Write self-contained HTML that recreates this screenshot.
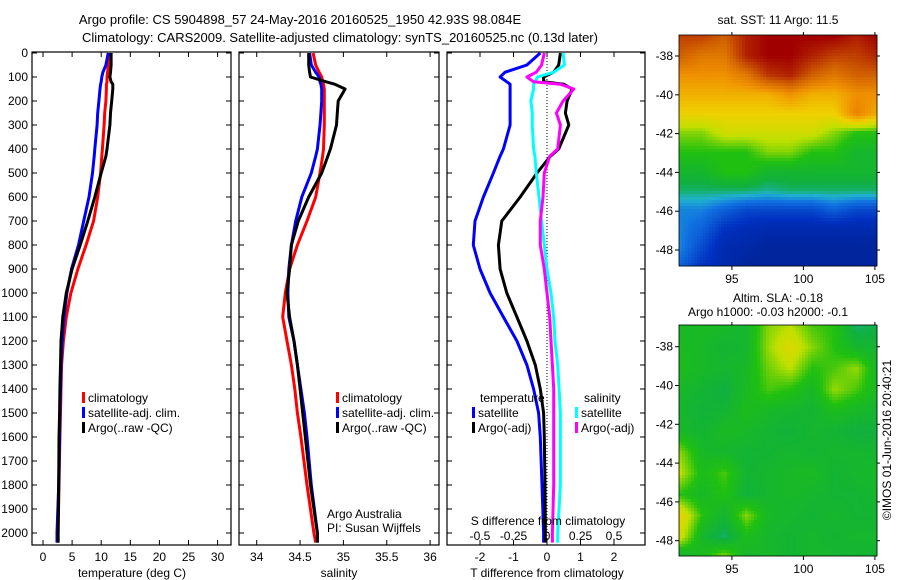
<!DOCTYPE html>
<html><head><meta charset="utf-8"><style>
body{margin:0;background:#fff}
svg{display:block;font-family:"Liberation Sans",sans-serif;font-size:12px}
</style></head><body>
<svg id="fig" width="900" height="580" xmlns="http://www.w3.org/2000/svg">
<rect width="900" height="580" fill="#fff"/>
<text x="300" y="24" text-anchor="middle" font-size="13">Argo profile: CS 5904898_57 24-May-2016 20160525_1950 42.93S 98.084E</text>
<text x="340" y="42" text-anchor="middle" font-size="13">Climatology: CARS2009. Satellite-adjusted climatology: synTS_20160525.nc (0.13d later)</text>
<g id="g"></g>
</svg>
<script>
// ---------- data ----------
const depths = [0,50,80,100,120,130,150,200,250,300,400,430,500,600,700,800,900,1000,1100,1200,1300,1400,1500,1600,1800,2000,2040];
const tempClim = [11.3,11.2,11.1,11.0,11.0,10.9,10.9,10.8,10.6,10.5,10.2,10.1,9.9,9.4,8.7,7.4,6.0,4.8,4.0,3.5,3.2,3.1,3.0,2.9,2.75,2.6,2.6];
const tempSat  = [11.2,10.8,10.3,10.1,10.0,9.9,9.8,9.6,9.4,9.3,8.9,8.8,8.5,7.9,7.0,6.1,4.9,4.1,3.6,3.3,3.1,3.0,2.9,2.85,2.7,2.4,2.4];
const tempArgo = [11.7,11.7,11.6,11.5,11.7,12.0,12.0,11.8,11.6,11.5,11.0,10.8,10.0,8.9,7.7,6.4,5.0,4.0,3.4,3.1,3.0,2.9,2.85,2.75,2.7,2.6,2.6];
const salClim = [34.65,34.68,34.72,34.75,34.76,34.77,34.78,34.78,34.78,34.78,34.77,34.76,34.73,34.68,34.58,34.47,34.38,34.33,34.30,34.35,34.40,34.44,34.47,34.51,34.58,34.66,34.68];
const salSat  = [34.61,34.63,34.68,34.72,34.73,34.74,34.75,34.75,34.74,34.73,34.70,34.68,34.63,34.52,34.45,34.40,34.37,34.36,34.37,34.43,34.47,34.51,34.55,34.58,34.63,34.70,34.70];
const salArgo = [34.60,34.60,34.61,34.62,34.80,34.90,35.02,34.94,34.93,34.92,34.85,34.82,34.75,34.60,34.48,34.40,34.38,34.35,34.38,34.43,34.47,34.50,34.53,34.56,34.62,34.70,34.70];
const tDiffSat  = [-0.2,-0.6,-1.25,-1.4,-1.2,-1.1,-1.1,-1.1,-1.1,-1.1,-1.3,-1.4,-1.6,-1.9,-2.15,-2.2,-2.0,-1.7,-1.3,-0.9,-0.6,-0.4,-0.25,-0.2,-0.15,-0.1,-0.1];
const tDiffArgo = [0.4,0.35,0.2,-0.1,-0.1,0.5,0.75,0.6,0.55,0.65,0.35,0.1,-0.3,-0.8,-1.35,-1.45,-1.4,-1.2,-0.9,-0.6,-0.35,-0.2,-0.1,-0.08,-0.06,-0.05,-0.05];
const sDiffSat  = [0.12,0.13,0.05,-0.07,-0.09,-0.1,-0.1,-0.12,-0.11,-0.11,-0.1,-0.09,-0.08,-0.06,-0.04,-0.02,0.0,0.03,0.05,0.06,0.08,0.09,0.1,0.1,0.1,0.08,0.08];
const sDiffArgo = [-0.02,-0.04,-0.08,-0.15,-0.1,0.1,0.2,0.12,0.07,0.1,0.08,0.02,-0.02,-0.03,-0.05,-0.05,-0.02,0.0,0.02,0.03,0.04,0.05,0.05,0.05,0.05,0.04,0.04];
const depthTicks = [0,100,200,300,400,500,600,700,800,900,1000,1100,1200,1300,1400,1500,1600,1700,1800,1900,2000];
const tempTicks = [0,5,10,15,20,25,30];
const salTicks = [34,34.5,35,35.5,36];
const tDiffTicks = [-2,-1,0,1,2];
const sDiffTicks = [-0.5,-0.25,0,0.25,0.5];
const latTicks = [-38,-40,-42,-44,-46,-48];
const lonTicks = [95,100,105];
const sstGrid = [
[0.9,0.9,0.85,0.95,1,1,1,1,0.95,1],
[0.85,0.8,0.8,0.95,1,1,0.95,0.9,0.9,0.95],
[0.75,0.75,0.75,0.8,0.92,0.95,0.85,0.8,0.85,0.85],
[0.7,0.7,0.7,0.7,0.7,0.75,0.7,0.7,0.75,0.75],
[0.65,0.65,0.65,0.65,0.65,0.65,0.65,0.65,0.78,0.7],
[0.55,0.55,0.6,0.6,0.6,0.6,0.6,0.55,0.5,0.5],
[0.5,0.5,0.5,0.5,0.55,0.55,0.5,0.5,0.45,0.45],
[0.45,0.45,0.5,0.5,0.45,0.45,0.45,0.45,0.45,0.45],
[0.4,0.4,0.4,0.4,0.38,0.4,0.4,0.4,0.4,0.4],
[0.3,0.3,0.25,0.2,0.2,0.2,0.2,0.25,0.2,0.2],
[0.3,0.25,0.15,0.12,0.1,0.1,0.1,0.1,0.1,0.1],
[0.3,0.2,0.1,0.08,0.05,0.05,0.05,0.05,0.05,0.05],
[0.25,0.15,0.1,0.05,0.05,0.05,0.05,0.05,0.05,0.05]];
const slaGrid = [
[0.46,0.47,0.46,0.45,0.55,0.58,0.52,0.5,0.4,0.42],
[0.47,0.46,0.44,0.45,0.56,0.62,0.55,0.5,0.45,0.44],
[0.48,0.46,0.45,0.46,0.54,0.58,0.5,0.52,0.56,0.45],
[0.46,0.44,0.42,0.47,0.52,0.5,0.46,0.56,0.52,0.46],
[0.45,0.43,0.44,0.48,0.46,0.45,0.44,0.48,0.46,0.44],
[0.46,0.44,0.47,0.46,0.44,0.43,0.45,0.44,0.42,0.43],
[0.55,0.46,0.45,0.44,0.44,0.45,0.44,0.45,0.45,0.44],
[0.58,0.48,0.52,0.44,0.45,0.46,0.47,0.44,0.45,0.46],
[0.5,0.46,0.5,0.43,0.45,0.46,0.45,0.44,0.44,0.45],
[0.64,0.5,0.44,0.55,0.46,0.45,0.44,0.45,0.44,0.44],
[0.6,0.45,0.4,0.48,0.45,0.44,0.45,0.44,0.45,0.45],
[0.42,0.48,0.56,0.45,0.46,0.44,0.45,0.45,0.44,0.44]];

// ---------- helpers ----------
const NS="http://www.w3.org/2000/svg";
const G=document.getElementById('g');
function mk(tag,attrs,parent){const e=document.createElementNS(NS,tag);for(const k in attrs)e.setAttribute(k,attrs[k]);(parent||G).appendChild(e);return e;}
const yD=d=>53+0.24*d;
const PT={x0:32,x1:231}, PS={x0:239,x1:439}, PD={x0:447,x1:645};
const TOP=52,BOT=545;
const xT=t=>43+5.82*t;
const xS=s=>256.7+86.7*(s-34);
const xTd=t=>547+33.5*t;
const xSd=s=>547+134*s;

function frame(p,name,leftLabels){
  const r=mk('rect',{x:p.x0,y:TOP,width:p.x1-p.x0,height:BOT-TOP,fill:'none',stroke:'#000','stroke-width':1.2});
  
  
  depthTicks.forEach(d=>{
    mk('line',{x1:p.x0,x2:p.x0+5,y1:yD(d),y2:yD(d),stroke:'#000'});
    mk('line',{x1:p.x1,x2:p.x1-5,y1:yD(d),y2:yD(d),stroke:'#000'});
    if(leftLabels){
      const t=mk('text',{x:p.x0-4,y:yD(d)+4,'text-anchor':'end'});t.textContent=d;
      
      
    }
  });
}
function xticks(p,ticks,fx,labelY,name){
  ticks.forEach(v=>{
    mk('line',{x1:fx(v),x2:fx(v),y1:BOT,y2:BOT-5,stroke:'#000'});
    mk('line',{x1:fx(v),x2:fx(v),y1:TOP,y2:TOP+5,stroke:'#000'});
    const t=mk('text',{x:fx(v),y:labelY,'text-anchor':'middle'});t.textContent=v;
    
    
  });
}
function line(xs,fx,col,name,w){
  const pts=depths.map((d,i)=>fx(xs[i]).toFixed(1)+','+yD(d).toFixed(1)).join(' ');
  const l=mk('polyline',{points:pts,fill:'none',stroke:col,'stroke-width':w||3,'stroke-linejoin':'round'});
  
  
}
function txt(x,y,s,name,anchor){
  const t=mk('text',{x:x,y:y,'text-anchor':anchor||'start'});t.textContent=s;
  
  
  return t;
}
function legend(x,y,col,s,name){
  const b=mk('rect',{x:x,y:y-10,width:3,height:11,fill:col});
  
  
  txt(x+6,y,s,name);
}

// ---------- panel 1 temperature ----------
frame(PT,'temperature-panel',true);
xticks(PT,tempTicks,xT,561,'temperature');
line(tempClim,xT,'#f00','temperature-climatology-line');
line(tempSat,xT,'#00f','temperature-satellite-line');
line(tempArgo,xT,'#000','temperature-argo-line');
txt(132,577,'temperature (deg C)','temperature-axis-title','middle');
legend(82,402,'#f00','climatology','legend-climatology');
legend(82,417,'#00f','satellite-adj. clim.','legend-satellite');
legend(82,432,'#000','Argo(..raw -QC)','legend-argo');

// ---------- panel 2 salinity ----------
frame(PS,'salinity-panel',false);
xticks(PS,salTicks,xS,561,'salinity');
line(salClim,xS,'#f00','salinity-climatology-line');
line(salSat,xS,'#00f','salinity-satellite-line');
line(salArgo,xS,'#000','salinity-argo-line');
txt(339,577,'salinity','salinity-axis-title','middle');
legend(336,402,'#f00','climatology','legend-climatology-2');
legend(336,417,'#00f','satellite-adj. clim.','legend-satellite-2');
legend(336,432,'#000','Argo(..raw -QC)','legend-argo-2');
txt(327,518,'Argo Australia','credit-argo-australia');
txt(327,532,'PI: Susan Wijffels','credit-pi');

// ---------- panel 3 differences ----------
frame(PD,'difference-panel',false);
tDiffTicks.forEach(v=>{
  mk('line',{x1:xTd(v),x2:xTd(v),y1:BOT,y2:BOT-5,stroke:'#000'});
  mk('line',{x1:xTd(v),x2:xTd(v),y1:TOP,y2:TOP+5,stroke:'#000'});
  txt(xTd(v),561,v,'t-diff-tick-label','middle');
});
sDiffTicks.forEach(v=>{txt(xSd(v),540,v,'s-diff-tick-label','middle');});
mk('line',{x1:xTd(0),x2:xTd(0),y1:TOP,y2:BOT,stroke:'#000','stroke-dasharray':'1,2'});
line(tDiffSat,xTd,'#00f','t-diff-satellite-line');
line(tDiffArgo,xTd,'#000','t-diff-argo-line');
line(sDiffSat,xSd,'#0ff','s-diff-satellite-line');
line(sDiffArgo,xSd,'#f0f','s-diff-argo-line');
txt(548,525,'S difference from climatology','s-diff-axis-title','middle');
txt(547,577,'T difference from climatology','t-diff-axis-title','middle');
txt(480,402,'temperature','legend-temperature-header');
txt(584,402,'salinity','legend-salinity-header');
legend(472,417,'#00f','satellite','legend-t-satellite');
legend(472,432,'#000','Argo(-adj)','legend-t-argo');
legend(575,417,'#0ff','satellite','legend-s-satellite');
legend(575,432,'#f0f','Argo(-adj)','legend-s-argo');

// ---------- maps ----------
const cStops=[[0,[0,32,138]],[0.15,[0,48,192]],[0.28,[16,112,224]],[0.35,[32,176,208]],[0.42,[16,176,64]],[0.5,[32,192,16]],[0.58,[192,224,0]],[0.65,[240,208,0]],[0.75,[240,144,0]],[0.85,[208,96,0]],[1,[160,0,0]]];
function cmap(v){
  v=Math.max(0,Math.min(1,v));
  for(let i=1;i<cStops.length;i++){if(v<=cStops[i][0]){const a=cStops[i-1],b=cStops[i],f=(v-a[0])/(b[0]-a[0]);
    return 'rgb('+a[1].map((c,k)=>Math.round(c+(b[1][k]-c)*f)).join(',')+')';}}
  return 'rgb(160,0,0)';
}
function drawMap(grid,box,name,latTop,latPerPx){
  const g=mk('g',{});
  
  
  const R=grid.length,C=grid[0].length,step=3;
  for(let y=box.y0;y<box.y1;y+=step){
    for(let x=box.x0;x<box.x1;x+=step){
      const fy=(y-box.y0)/(box.y1-box.y0)*(R-1), fx=(x-box.x0)/(box.x1-box.x0)*(C-1);
      const r0=Math.floor(fy),c0=Math.floor(fx),r1=Math.min(R-1,r0+1),c1=Math.min(C-1,c0+1),ty=fy-r0,tx=fx-c0;
      const v=grid[r0][c0]*(1-tx)*(1-ty)+grid[r0][c1]*tx*(1-ty)+grid[r1][c0]*(1-tx)*ty+grid[r1][c1]*tx*ty;
      mk('rect',{x:x,y:y,width:Math.min(step,box.x1-x)+0.3,height:Math.min(step,box.y1-y)+0.3,fill:cmap(v)},g);
    }
  }
  mk('rect',{x:box.x0,y:box.y0,width:box.x1-box.x0,height:box.y1-box.y0,fill:'none',stroke:'#000','stroke-width':0.8});
  const xL=lon=>679+14.3*(lon-91.3);
  lonTicks.forEach(l=>{
    mk('line',{x1:xL(l),x2:xL(l),y1:box.y1,y2:box.y1+4,stroke:'#000'});
    mk('line',{x1:xL(l),x2:xL(l),y1:box.y0,y2:box.y0-3,stroke:'#000'});
    txt(xL(l),box.y1+17,l,name+'-lon-label','middle');
  });
  latTicks.forEach(l=>{
    const y=latTop+latPerPx*(-38-l);
    mk('line',{x1:box.x0-4,x2:box.x0,y1:y,y2:y,stroke:'#000'});
    mk('line',{x1:box.x1,x2:box.x1+3,y1:y,y2:y,stroke:'#000'});
    txt(box.x0-6,y+4,l,name+'-lat-label','end');
  });
}
drawMap(sstGrid,{x0:679,x1:877,y0:35,y1:266},'sst-map',56,19.4);
txt(778,24,'sat. SST: 11 Argo: 11.5','sst-map-title','middle');
drawMap(slaGrid,{x0:679,x1:877,y0:325,y1:556},'sla-map',346.7,19.4);
txt(778,302,'Altim. SLA: -0.18','sla-map-title','middle');
txt(768,316,'Argo h1000: -0.03 h2000: -0.1','sla-map-subtitle','middle');
const cr=txt(0,0,'©IMOS 01-Jun-2016 20:40:21','imos-credit','middle');
cr.setAttribute('transform','translate(891,440) rotate(-90)');
</script>
</body></html>
